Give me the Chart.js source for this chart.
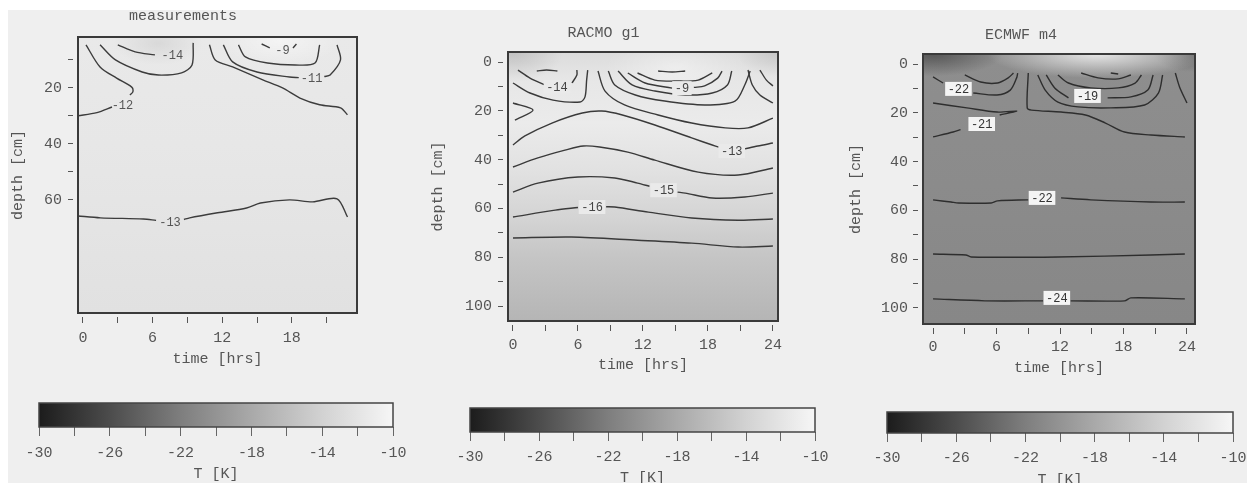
<!DOCTYPE html>
<html>
<head>
<meta charset="utf-8">
<script src="https://cdn.jsdelivr.net/npm/chart.js@4.4.1/dist/chart.umd.min.js"></script>
<style>
  html, body { margin: 0; padding: 0; width: 1247px; height: 483px; overflow: hidden; background: #fff; }
  #bg { position: absolute; left: 8px; top: 10px; right: 0; bottom: 0; background: #efefef; }
  canvas { position: absolute; }
</style>
</head>
<body>
<div id="bg"></div>
<canvas id="p1" width="372" height="370" style="left:0px;top:0px"></canvas>
<canvas id="p2" width="375" height="376" style="left:420px;top:0px"></canvas>
<canvas id="p3" width="374" height="379" style="left:838px;top:0px"></canvas>
<canvas id="cb1" width="403" height="93" style="left:15px;top:390px"></canvas>
<canvas id="cb2" width="392" height="92" style="left:445px;top:395px"></canvas>
<canvas id="cb3" width="395" height="90" style="left:862px;top:399px"></canvas>
<script>
// axis ticks
const timeTicks = [0, 3, 6, 9, 12, 15, 18, 21, 24];
const timeLabels = [0, 6, 12, 18, 24];
const measDepthTicks = [10, 20, 30, 40, 50, 60];
const measDepthLabels = [20, 40, 60];
const depthTicks = [0, 10, 20, 30, 40, 50, 60, 70, 80, 90, 100];
const depthLabels = [0, 20, 40, 60, 80, 100];
const tempTicks = [-30, -28, -26, -24, -22, -20, -18, -16, -14, -12, -10];
const tempLabels = [-30, -26, -22, -18, -14, -10];

// contour lines as [time hrs, depth cm]; null = gap for the label
const measContours = [
  [[0.26, 4.6], [1.47, 12.5], [2.9, 16.5], [4.2, 19.7], [4.3, 21.4], [4.05, 22.5], null, [2.5, 26.8], [1.2, 28.8], [-0.5, 30]],
  [[1.47, 4.6], [2.8, 10], [5.1, 14.3], [6.5, 15.4], [8.5, 14.6], [9.4, 11.8], [9.5, 3.9]],
  [[3.0, 4.6], [4.5, 7.1], [6.2, 8.2]],
  [[10.9, 4.6], [11.4, 10], [12.9, 12.5], [15.5, 17.1], [17.2, 20], [18.7, 23.6], [20.4, 26], [22.2, 27.1], [22.8, 29.6]],
  [[12.1, 4.6], [12.9, 10.7], [15.0, 14.3], [17.8, 16.1], [18.6, 16.3], null, [20.8, 15.9], [21.3, 15.4], [22.2, 10], [21.9, 4.6]],
  [[13.4, 4.6], [14.0, 8.9], [15.9, 11.1], [18.3, 11.8], [20.0, 11.1], [20.4, 4.6]],
  [[15.4, 4.3], [16.1, 5.7], null, [18.1, 5.7], [18.4, 4.3]],
  [[-0.5, 65.7], [1.5, 66.4], [5.2, 66.8], [6.3, 67.3], null, [8.7, 67], [9.2, 66.4], [11.6, 64.6], [14.1, 62.9], [15.3, 61.1], [17.8, 60], [19.8, 60.7], [21.9, 59.6], [22.8, 66.1]]
];
const measLabels = [['-14', 7.7, 8.2], ['-9', 17.2, 6.4], ['-11', 19.7, 16.4], ['-12', 3.4, 26], ['-13', 7.5, 67.9]];

const racmoContours = [
  [[2.2, 3.7], [3.1, 3.3], [4.1, 3.7]],
  [[0.46, 3.3], [1.57, 6.6], [2.95, 9.4], null, [5.45, 8.6], [5.9, 5.3], [5.9, 3.3]],
  [[0, 8.6], [1.57, 12.7], [3.7, 15.6], [6.2, 16.4], [6.65, 14.3], [6.8, 7.4], [6.9, 3.3]],
  [[0, 16.8], [1.85, 19.7], [0.18, 23.8]],
  [[0, 34], [1.1, 30.3], [3.6, 25], [6.4, 20.9], [8.2, 20.1], [10.1, 21.7], [13.1, 25.8], [16.5, 31.1], [18.4, 34], [19.0, 34.9], null, [21.4, 35.6], [22.6, 34.4], [24, 33.2]],
  [[0, 43], [2.3, 39.3], [4.8, 36.1], [6.5, 34.4], [8.0, 34.8], [10.6, 36.9], [13.1, 40.2], [17.1, 45.1], [20.8, 46.3], [24, 43.4]],
  [[0, 53.3], [2.3, 49.6], [6.0, 47.1], [9.4, 47.5], [11.5, 49.6], [12.6, 50.9], null, [15.2, 53.3], [15.9, 53.7], [18.4, 55.7], [21.4, 55.3], [24, 53.7]],
  [[0, 63.5], [3.9, 60.7], [6.0, 59.6], null, [8.6, 59.3], [9.4, 59.4], [12.5, 61.5], [16.5, 63.9], [20.8, 64.8], [24, 64.3]],
  [[0, 72.1], [5.4, 71.7], [11.5, 73], [16.5, 74.2], [20.8, 75.8], [24, 75.4]],
  [[7.85, 3.7], [8.5, 11.9], [10.3, 17.6], [13.4, 21.7], [16.5, 25], [19.6, 27], [21.7, 27], [24, 23]],
  [[8.8, 3.7], [9.4, 9.4], [11.3, 13.5], [14.0, 16], [17.7, 17.6], [20.5, 16], [21.4, 9.4], [21.9, 3.7]],
  [[9.7, 3.7], [11.0, 9.4], [13.1, 11.9], [15.9, 13.5], [18.4, 12.7], [19.8, 9.4], [20.2, 3.7]],
  [[10.6, 4.5], [12.2, 8.6], [14.7, 10.7], null, [16.7, 10.4], [17.7, 9.8], [18.9, 6.6], [19.3, 3.7]],
  [[11.5, 4.5], [13.1, 7.4], [15.2, 7.8], [17.1, 7.4], [18.4, 4.5]],
  [[13.4, 3.7], [14.7, 4.1], [15.9, 3.7]],
  [[21.7, 3.3], [22.1, 9.4], [22.8, 13.5], [24, 16.8]],
  [[22.8, 3.3], [23.4, 7.4], [24, 9.8]]
];
const racmoLabels = [['-14', 4.06, 10.2], ['-9', 15.6, 10.7], ['-13', 20.2, 36.5], ['-15', 13.9, 52.5], ['-16', 7.3, 59.4]];

const ecmwfContours = [
  [[0, 5.3], [0.95, 7.8], null, [3.8, 11.9], [6.05, 12.7], [7.3, 10.7], [7.9, 5.7], [8.0, 3.7]],
  [[3.0, 4.5], [4.5, 7.4], [6.1, 7.8], [7.1, 5.7], [7.6, 3.7]],
  [[0, 16], [3.2, 18], [6.05, 19.7], [7.9, 19.3], [6.3, 20.9], null, [2.6, 26.9], [1.9, 27.9], [0, 29.9]],
  [[9.0, 3.7], [8.9, 18], [9.3, 18.9], [12.1, 19.7], [14.4, 20.9], [16.3, 24.2], [18.1, 27.9], [20.6, 29.1], [23.8, 29.9]],
  [[9.9, 4.5], [10.6, 10.7], [11.8, 15.6], [13.7, 17.6], [16.8, 18], [20.0, 16.8], [21.3, 11.9], [21.7, 4.5]],
  [[10.7, 4.5], [11.5, 9.8], [12.8, 13.9], null, [16.5, 13.9], [18.7, 13.5], [20.3, 10.7], [20.8, 4.5]],
  [[11.8, 4.5], [12.8, 7.8], [14.9, 9.8], [17.5, 9.8], [19.1, 7.8], [19.7, 4.5]],
  [[14.0, 3.7], [15.6, 5.7], [17.5, 6.1], [18.7, 4.5]],
  [[16.8, 3.7], [17.5, 4.1]],
  [[22.9, 3.7], [23.3, 9.4], [24.0, 16]],
  [[0, 55.7], [1.7, 56.6], [2.4, 57], [5.5, 57], [6.1, 56.1], [9.0, 55.7], null, [12.1, 54.9], [14.9, 55.7], [20.6, 56.6], [23.8, 56.6]],
  [[0, 77.9], [3.1, 78.3], [3.6, 79.1], [11.8, 79.1], [20.6, 78.3], [23.8, 77.9]],
  [[0, 96.3], [4.9, 97.1], [10.4, 97.1], null, [13.0, 97.1], [18.1, 97.1], [18.7, 95.9], [23.8, 96.3]]
];
const ecmwfLabels = [['-22', 2.4, 10.2], ['-21', 4.6, 24.6], ['-19', 14.6, 13.1], ['-22', 10.3, 54.9], ['-24', 11.7, 95.9]];

// grey scale of the colour bars [T, grey]
const tempStops = [[-30, '#1c1c1c'], [-26, '#4c4c4c'], [-22, '#7e7e7e'], [-18, '#a9a9a9'], [-14, '#d2d2d2'], [-10, '#f6f6f6']];

Chart.defaults.font.family = '"Liberation Mono", "DejaVu Sans Mono", monospace';
Chart.defaults.font.size = 15;
Chart.defaults.color = '#555';
Chart.defaults.animation = false;

function toPoints(list) {
  return list.map((p, i) => p ? { x: p[0], y: p[1] } : { x: list[i - 1][0], y: null });
}

function fieldPlugin(paint) {
  return {
    id: 'field',
    beforeDatasetsDraw(chart) {
      const { ctx, chartArea: a, scales } = chart;
      ctx.save();
      ctx.beginPath();
      ctx.rect(a.left, a.top, a.width, a.height);
      ctx.clip();
      paint(ctx, a, scales.x, scales.y);
      ctx.restore();
    }
  };
}

const framePlugin = {
  id: 'frame',
  afterDatasetsDraw(chart) {
    const { ctx, chartArea: a } = chart;
    ctx.save();
    ctx.strokeStyle = '#3a3a3a';
    ctx.lineWidth = 2;
    ctx.strokeRect(a.left, a.top, a.width, a.height);
    ctx.restore();
  }
};

function labelPlugin(items, box, color) {
  return {
    id: 'contourLabels',
    afterDatasetsDraw(chart) {
      const { ctx, scales: { x, y } } = chart;
      ctx.save();
      ctx.font = '12px "Liberation Mono", monospace';
      ctx.textAlign = 'center';
      ctx.textBaseline = 'middle';
      items.forEach(([txt, t, d]) => {
        const px = x.getPixelForValue(t), py = y.getPixelForValue(d);
        const w = ctx.measureText(txt).width + 5;
        if (box) {
          ctx.fillStyle = box;
          ctx.fillRect(px - w / 2, py - 7, w, 14);
        }
        ctx.fillStyle = color;
        ctx.fillText(txt, px, py + 1);
      });
      ctx.restore();
    }
  };
}

function vGrad(ctx, a, y, stops) {
  const g = ctx.createLinearGradient(0, a.top, 0, a.bottom);
  stops.forEach(([d, c]) => {
    const o = (y.getPixelForValue(d) - a.top) / (a.bottom - a.top);
    g.addColorStop(Math.min(1, Math.max(0, o)), c);
  });
  return g;
}

function blob(ctx, cx, cy, rx, ry, inner, outer) {
  ctx.save();
  ctx.translate(cx, cy);
  ctx.scale(1, ry / rx);
  const g = ctx.createRadialGradient(0, 0, 0, 0, 0, rx);
  g.addColorStop(0, inner);
  g.addColorStop(1, outer);
  ctx.fillStyle = g;
  ctx.fillRect(-rx, -rx, rx * 2, rx * 2);
  ctx.restore();
}

function panel(id, cfg) {
  return new Chart(document.getElementById(id), {
    type: 'line',
    data: {
      datasets: cfg.contours.map(c => ({
        data: toPoints(c),
        borderColor: cfg.line,
        borderWidth: 1.4,
        pointRadius: 0,
        tension: 0.3,
        fill: false
      }))
    },
    options: {
      responsive: false,
      events: [],
      layout: { padding: cfg.pad },
      plugins: {
        legend: { display: false },
        tooltip: { enabled: false },
        title: {
          display: true, text: cfg.title, color: '#555',
          font: { size: 15, weight: 'normal' }, padding: cfg.titlePad
        }
      },
      scales: {
        x: {
          type: 'linear', min: cfg.xMin, max: cfg.xMax,
          afterBuildTicks: s => { s.ticks = timeTicks.filter(v => v <= cfg.xMax).map(v => ({ value: v })); },
          afterFit: s => { s.height = cfg.xH; },
          ticks: { autoSkip: false, maxRotation: 0, padding: cfg.xPad, color: '#555',
            callback: v => timeLabels.includes(v) ? String(v) : '' },
          grid: { drawOnChartArea: false, tickLength: 10, color: '#555', tickColor: '#555',
            tickBorderDash: [6, 4], tickBorderDashOffset: 6 },
          border: { display: false },
          title: { display: true, text: 'time [hrs]', padding: 0, color: '#555', font: { size: 15 } }
        },
        y: {
          type: 'linear', reverse: true, min: cfg.yMin, max: cfg.yMax,
          afterBuildTicks: s => { s.ticks = cfg.yTicks.map(v => ({ value: v })); },
          afterFit: s => { s.width = cfg.yW; },
          ticks: { autoSkip: false, padding: cfg.yPad, color: '#555',
            callback: v => cfg.yLabels.includes(v) ? String(v) : '' },
          grid: { drawOnChartArea: false, tickLength: 10, color: '#555', tickColor: '#555',
            tickBorderDash: [5, 5], tickBorderDashOffset: 0 },
          border: { display: false },
          title: { display: true, text: 'depth [cm]', padding: 0, color: '#555', font: { size: 15 } }
        }
      }
    },
    plugins: [fieldPlugin(cfg.paint), framePlugin, labelPlugin(cfg.labels, cfg.box, cfg.labelColor)]
  });
}

function colorbar(id, pad, tickPad, xH) {
  return new Chart(document.getElementById(id), {
    type: 'line',
    data: { datasets: [] },
    options: {
      responsive: false,
      events: [],
      layout: { padding: pad },
      plugins: { legend: { display: false }, tooltip: { enabled: false } },
      scales: {
        x: {
          type: 'linear', min: -30, max: -10,
          afterBuildTicks: s => { s.ticks = tempTicks.map(v => ({ value: v })); },
          afterFit: s => { s.height = xH; },
          ticks: { autoSkip: false, maxRotation: 0, padding: tickPad, color: '#555',
            callback: v => tempLabels.includes(v) ? String(v) : '' },
          grid: { drawOnChartArea: false, tickLength: 9, color: '#666', tickColor: '#666' },
          border: { display: false },
          title: { display: true, text: 'T [K]', padding: 0, color: '#555', font: { size: 15 } }
        },
        y: { display: false, min: 0, max: 1 }
      }
    },
    plugins: [{
      id: 'bar',
      beforeDatasetsDraw(chart) {
        const { ctx, chartArea: a, scales: { x } } = chart;
        const g = ctx.createLinearGradient(a.left, 0, a.right, 0);
        tempStops.forEach(([v, c]) => g.addColorStop((x.getPixelForValue(v) - a.left) / (a.right - a.left), c));
        ctx.save();
        ctx.fillStyle = g;
        ctx.fillRect(a.left, a.top, a.width, a.height);
        ctx.strokeStyle = '#444';
        ctx.lineWidth = 1.5;
        ctx.strokeRect(a.left, a.top, a.width, a.height);
        ctx.restore();
      }
    }]
  });
}

panel('p1', {
  title: 'measurements', contours: measContours, labels: measLabels,
  line: '#3c3c3c', box: null, labelColor: '#555',
  pad: { left: 9, top: 0, right: 15, bottom: 2 }, titlePad: { top: 7, bottom: 12 },
  xMin: -0.43, xMax: 23.62, yMin: 1.8, yMax: 100.4,
  yTicks: measDepthTicks, yLabels: measDepthLabels,
  xH: 55, yW: 69, xPad: 6, yPad: 6,
  paint(ctx, a, x, y) {
    ctx.fillStyle = vGrad(ctx, a, y, [[2, '#e9e9e9'], [40, '#e7e7e7'], [100, '#e1e1e1']]);
    ctx.fillRect(a.left, a.top, a.width, a.height);
    blob(ctx, x.getPixelForValue(6.5), y.getPixelForValue(4), 45, 22, 'rgba(0,0,0,0.07)', 'rgba(0,0,0,0)');
    blob(ctx, x.getPixelForValue(17), y.getPixelForValue(3), 60, 25, 'rgba(255,255,255,0.5)', 'rgba(255,255,255,0)');
  }
});

panel('p2', {
  title: 'RACMO g1', contours: racmoContours, labels: racmoLabels,
  line: '#3a3a3a', box: '#eaeaea', labelColor: '#444',
  pad: { left: 9, top: 0, right: 17, bottom: 2 }, titlePad: { top: 24, bottom: 10 },
  xMin: -0.46, xMax: 24.47, yMin: -4.1, yMax: 106.1,
  yTicks: depthTicks, yLabels: depthLabels,
  xH: 53, yW: 79, xPad: 5, yPad: 6,
  paint(ctx, a, x, y) {
    ctx.fillStyle = vGrad(ctx, a, y, [[-4, '#dcdcdc'], [8, '#e7e7e7'], [25, '#ebebeb'], [45, '#e1e1e1'], [65, '#d3d3d3'], [80, '#c5c5c5'], [106, '#b5b5b5']]);
    ctx.fillRect(a.left, a.top, a.width, a.height);
    blob(ctx, x.getPixelForValue(0), y.getPixelForValue(-4), 50, 30, 'rgba(0,0,0,0.12)', 'rgba(0,0,0,0)');
    blob(ctx, x.getPixelForValue(24.4), y.getPixelForValue(-4), 40, 25, 'rgba(0,0,0,0.1)', 'rgba(0,0,0,0)');
    blob(ctx, x.getPixelForValue(15), y.getPixelForValue(2), 70, 30, 'rgba(255,255,255,0.4)', 'rgba(255,255,255,0)');
  }
});

panel('p3', {
  title: 'ECMWF m4', contours: ecmwfContours, labels: ecmwfLabels,
  line: '#2e2e2e', box: '#f4f4f4', labelColor: '#333',
  pad: { left: 9, top: 0, right: 17, bottom: 2 }, titlePad: { top: 26, bottom: 10 },
  xMin: -0.95, xMax: 24.76, yMin: -4.1, yMax: 106.6,
  yTicks: depthTicks, yLabels: depthLabels,
  xH: 53, yW: 76, xPad: 4, yPad: 5,
  paint(ctx, a, x, y) {
    ctx.fillStyle = vGrad(ctx, a, y, [[-4, '#8e8e8e'], [50, '#8b8b8b'], [106, '#878787']]);
    ctx.fillRect(a.left, a.top, a.width, a.height);
    blob(ctx, x.getPixelForValue(0), y.getPixelForValue(-4), 70, 22, 'rgba(40,40,40,0.55)', 'rgba(40,40,40,0)');
    blob(ctx, x.getPixelForValue(24.7), y.getPixelForValue(-4), 40, 18, 'rgba(40,40,40,0.35)', 'rgba(40,40,40,0)');
    blob(ctx, x.getPixelForValue(15.5), y.getPixelForValue(-4), 110, 24, 'rgba(235,235,235,0.95)', 'rgba(235,235,235,0)');
  }
});

colorbar('cb1', { left: 24, right: 25, top: 13, bottom: 0 }, 8, 56);
colorbar('cb2', { left: 25, right: 22, top: 13, bottom: 0 }, 7, 55);
colorbar('cb3', { left: 25, right: 24, top: 13, bottom: 0 }, 7, 56);
</script>
</body>
</html>
